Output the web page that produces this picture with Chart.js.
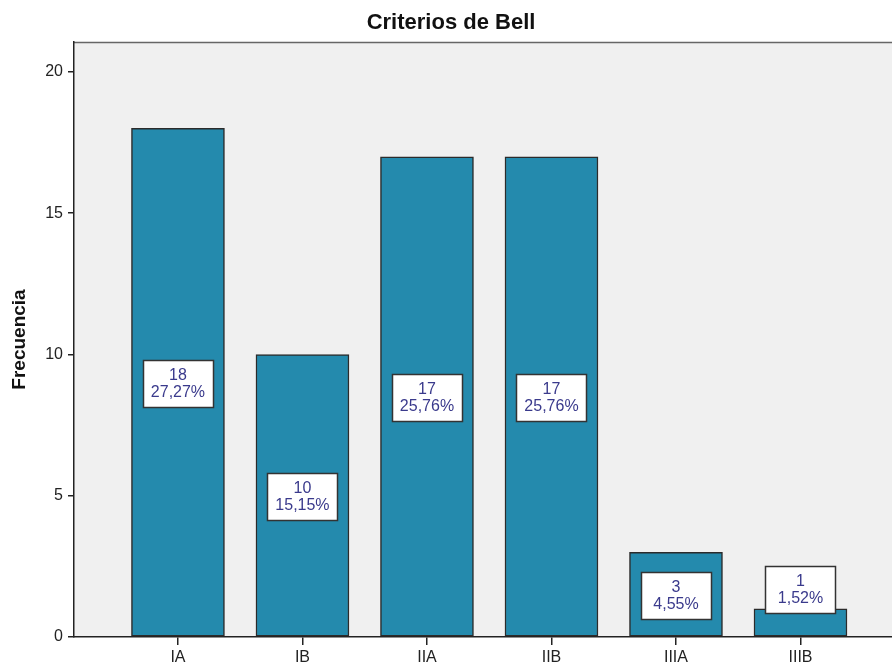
<!DOCTYPE html>
<html>
<head>
<meta charset="utf-8">
<script src="https://cdn.jsdelivr.net/npm/chart.js@4"></script>
<style>
  html, body { margin: 0; padding: 0; background: #fff; overflow: hidden; }
  canvas { display: block; }
</style>
</head>
<body>
<canvas id="chart" width="892" height="665"></canvas>
<script>
// datos
const categorias = ['IA', 'IB', 'IIA', 'IIB', 'IIIA', 'IIIB'];
const frecuencias = [18, 10, 17, 17, 3, 1];
const porcentajes = ['27,27%', '15,15%', '25,76%', '25,76%', '4,55%', '1,52%'];
const ticksY = [0, 5, 10, 15, 20];

const FONT = "Arial, 'Liberation Sans', sans-serif";
const colorBarra = '#248aad';

// fondo gris del area del grafico, borde superior y titulo
const fondoPlugin = {
  id: 'fondo',
  beforeDraw(chart) {
    const { ctx, chartArea: a } = chart;
    ctx.save();
    ctx.fillStyle = '#f0f0f0';
    ctx.fillRect(a.left, a.top, a.right - a.left, a.bottom - a.top);
    ctx.strokeStyle = '#666';
    ctx.lineWidth = 1.5;
    ctx.beginPath();
    ctx.moveTo(a.left, a.top + 0.5);
    ctx.lineTo(a.right, a.top + 0.5);
    ctx.stroke();
    ctx.fillStyle = '#111';
    ctx.font = 'bold 22px ' + FONT;
    ctx.textAlign = 'center';
    ctx.textBaseline = 'middle';
    ctx.fillText('Criterios de Bell', 451, 23);
    ctx.restore();
  }
};

// cajas con frecuencia y porcentaje
const etiquetasPlugin = {
  id: 'etiquetas',
  afterDatasetsDraw(chart) {
    const { ctx } = chart;
    const y = chart.scales.y;
    const meta = chart.getDatasetMeta(0);
    const w = 70, h = 47;
    ctx.save();
    meta.data.forEach((bar, i) => {
      const base = y.getPixelForValue(0);
      const top = y.getPixelForValue(frecuencias[i]);
      let cy = y.getPixelForValue(frecuencias[i] / 2) + 1;
      if (base - top < h + 10) cy = top + 4 - h / 2;
      const x0 = Math.round(bar.x - w / 2) + 0.5;
      const y0 = Math.round(cy - h / 2) + 0.5;
      ctx.fillStyle = '#ffffff';
      ctx.fillRect(x0, y0, w, h);
      ctx.strokeStyle = '#333';
      ctx.lineWidth = 1.5;
      ctx.strokeRect(x0, y0, w, h);
      ctx.fillStyle = '#3a3a8c';
      ctx.font = '16px ' + FONT;
      ctx.textAlign = 'center';
      ctx.textBaseline = 'middle';
      ctx.fillText(String(frecuencias[i]), bar.x, cy - 8);
      ctx.fillText(porcentajes[i], bar.x, cy + 9);
    });
    ctx.restore();
  }
};

new Chart(document.getElementById('chart'), {
  type: 'bar',
  data: {
    datasets: [{
      data: categorias.map((c, i) => ({ x: i, y: frecuencias[i] })),
      backgroundColor: colorBarra,
      borderColor: '#2b2b2b',
      borderWidth: 1.5,
      borderSkipped: false,
      barThickness: 93
    }]
  },
  options: {
    responsive: false,
    animation: false,
    layout: { padding: { top: 42, right: 0, left: 0, bottom: 0 } },
    plugins: {
      legend: { display: false },
      tooltip: { enabled: false },
      title: { display: false }
    },
    scales: {
      x: {
        type: 'linear',
        offset: false,
        min: -0.835,
        max: 5.735,
        afterBuildTicks(scale) {
          scale.ticks = categorias.map((c, i) => ({ value: i }));
        },
        afterFit(scale) { scale.height = 28; },
        grid: { display: true, offset: false, drawOnChartArea: false, tickLength: 8, color: '#222', lineWidth: 1.5 },
        border: { display: true, color: '#222', width: 1.5 },
        ticks: {
          color: '#222',
          font: { family: FONT, size: 16 },
          padding: 3,
          maxRotation: 0,
          callback: (v) => categorias[v]
        }
      },
      y: {
        min: 0,
        max: 21.06,
        afterBuildTicks(scale) {
          scale.ticks = ticksY.map(v => ({ value: v }));
        },
        afterFit(scale) { scale.width = 74; },
        grid: { display: true, drawOnChartArea: false, tickLength: 6, color: '#222', lineWidth: 1.5 },
        border: { display: true, color: '#222', width: 1.5 },
        ticks: {
          color: '#222',
          font: { family: FONT, size: 16 },
          padding: 5
        },
        title: {
          display: true,
          text: 'Frecuencia',
          color: '#111',
          font: { family: FONT, size: 19, weight: 'bold' },
          padding: { top: 8, bottom: 0 }
        }
      }
    }
  },
  plugins: [fondoPlugin, etiquetasPlugin]
});
</script>
</body>
</html>
